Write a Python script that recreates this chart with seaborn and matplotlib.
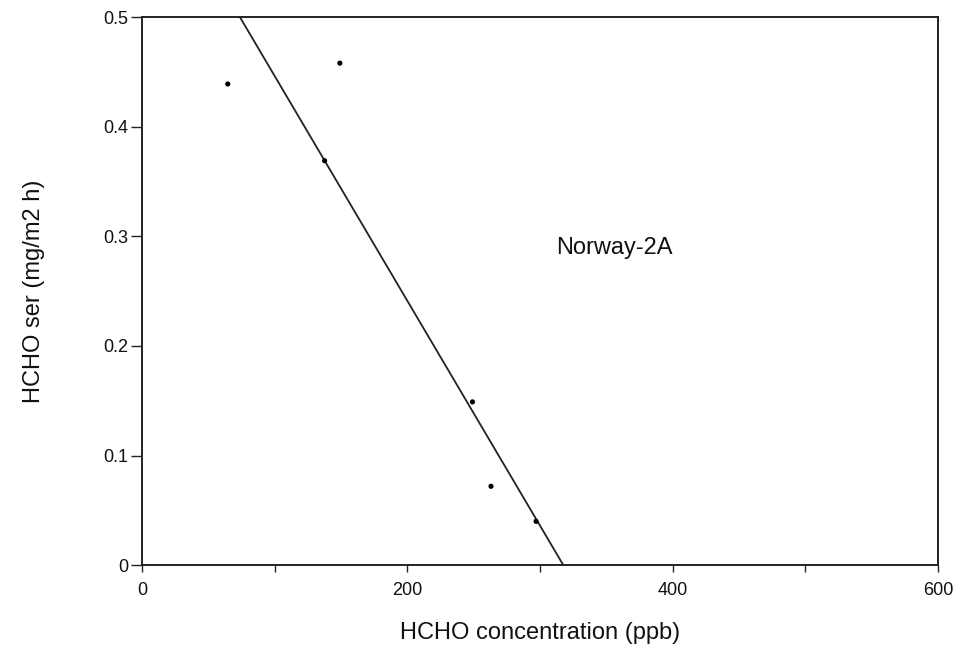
import matplotlib
matplotlib.use("Agg")
import matplotlib.pyplot as plt
import seaborn as sns
import numpy as np
import pandas as pd

# Data
conc_ppb = [64.5, 137.5, 149, 249, 263, 297]
ser_mg = [0.439, 0.369, 0.458, 0.149, 0.072, 0.040]
fit_intercept = 0.651
fit_slope = -0.00205
label_text = "Norway-2A"
xticks = [0, 100, 200, 300, 400, 500, 600]
xticklabels = ["0", "", "200", "", "400", "", "600"]
yticks = [0, 0.1, 0.2, 0.3, 0.4, 0.5]
yticklabels = ["0", "0.1", "0.2", "0.3", "0.4", "0.5"]

sns.set_theme(style="ticks")
plt.rcParams['font.family'] = ['Liberation Sans', 'DejaVu Sans']

fig = plt.figure(figsize=(9.61, 6.58), dpi=100)
ax = fig.add_axes([0.148, 0.141, 0.828, 0.833])

df = pd.DataFrame({"x": conc_ppb, "y": ser_mg})
sns.scatterplot(data=df, x="x", y="y", ax=ax, color="black", s=14,
                edgecolor="none", zorder=3)

fit_x = np.array([0.0, 600.0])
fit_df = pd.DataFrame({"x": fit_x, "y": fit_intercept + fit_slope * fit_x})
sns.lineplot(data=fit_df, x="x", y="y", ax=ax, color="#222222", linewidth=1.3)

ax.set_xlim(0, 600)
ax.set_ylim(0, 0.5)
ax.set_xticks(xticks)
ax.set_xticklabels(xticklabels, fontsize=13)
ax.set_yticks(yticks)
ax.set_yticklabels(yticklabels, fontsize=13)
ax.tick_params(axis="x", direction="out", length=5, width=1, pad=7, colors="#222222")
ax.tick_params(axis="y", direction="out", length=8, width=1, pad=2, colors="#222222")
for lbl in ax.get_xticklabels() + ax.get_yticklabels():
    lbl.set_color("#111111")

for sp in ax.spines.values():
    sp.set_visible(True)
    sp.set_color("#222222")
    sp.set_linewidth(1.4)

ax.set_xlabel("HCHO concentration (ppb)", fontsize=17, labelpad=17, color="#111111")
ax.set_ylabel("HCHO ser (mg/m2 h)", fontsize=17, labelpad=42, color="#111111")

ax.text(312, 0.289, label_text, fontsize=17, va="center", ha="left", color="#111111")

fig.savefig("out.png", dpi=100)
